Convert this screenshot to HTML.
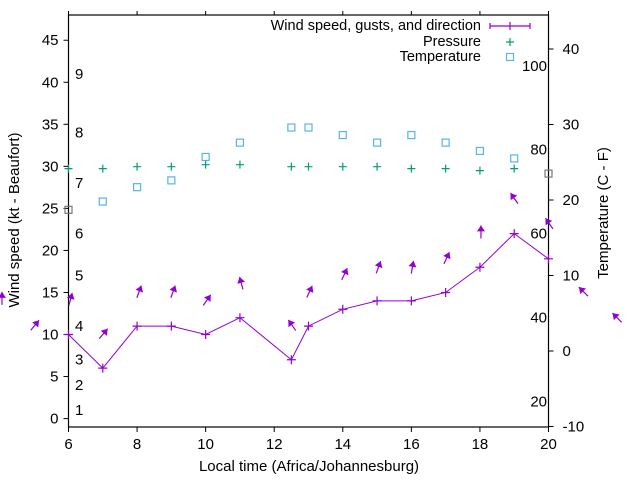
<!DOCTYPE html>
<html><head><meta charset="utf-8"><style>
html,body{margin:0;padding:0;background:#fff}
svg{display:block;font-family:"Liberation Sans",sans-serif}
</style></head><body>
<svg id="chart" width="640" height="480" xmlns="http://www.w3.org/2000/svg">
<g id="g"></g>
</svg>
<script>
const hours=[6,7,8,9,10,11,12.5,13,14,15,16,17,18,19,20];
const windSpeed=[10,6,11,11,10,12,7,11,13,14,14,15,18,22,19];
const pressure=[29.73,29.73,29.96,29.96,30.2,30.2,29.96,29.96,29.96,29.96,29.73,29.73,29.49,29.73];
const tempC=[18.7,19.8,21.7,22.6,25.7,27.6,29.6,29.6,28.6,27.6,28.6,27.6,26.5,25.5,23.5];
const arrowHours=[4.06,5.02,6.06,7.02,8.06,9.05,10.04,11.04,12.52,13.03,14.05,15.04,16.03,17.03,18.03,19.0,20.02,21.02,22.0];
const arrowLevel=[14.3,11.1,14.2,10.1,15.1,15.1,14.1,16.1,11.1,15.1,17.2,18.0,18.0,19.1,22.2,26.2,23.2,15.1,12.0];
const arrowDir=[0,40,15,40,20,20,35,-15,-35,25,25,20,10,25,0,-35,-35,-45,-45];
const xTicks=[6,8,10,12,14,16,18,20];
const yTicks=[0,5,10,15,20,25,30,35,40,45];
const y2Ticks=[-10,0,10,20,30,40];
const beaufortLabels=["1","2","3","4","5","6","7","8","9"];
const beaufortKt=[1,4,7,11,17,22,28,34,41];
const fLabels=["20","40","60","80","100"];
const fValues=[20,40,60,80,100];

const L=68.5,R=548.5,T=15,B=427;
const X=h=>L+(h-6)/(20-6)*(R-L);
const Y=v=>B-(v+1)/49*(B-T);
const Y2=c=>351-c*7.55;
const F2C=f=>(f-32)*5/9;
const NS="http://www.w3.org/2000/svg";
const g=document.getElementById('g');
function mk(tag,attrs,parent){const e=document.createElementNS(NS,tag);for(const k in attrs)e.setAttribute(k,attrs[k]);(parent||g).appendChild(e);return e;}
function txt(s,x,y,anchor,size,extra){const e=mk('text',Object.assign({x:x,y:y,'text-anchor':anchor||'middle','font-size':size||14,fill:'#000'},extra||{}));e.textContent=s;return e;}

// border
let e=mk('rect',{x:L,y:T,width:R-L,height:B-T,fill:'none',stroke:'#000','stroke-width':1.2});



xTicks.forEach(h=>{
  let t=mk('line',{x1:X(h),x2:X(h),y1:B,y2:B+5,stroke:'#000'});
  
  
  mk('line',{x1:X(h),x2:X(h),y1:T,y2:T-4,stroke:'#000'});
  let l=txt(String(h),X(h),449,'middle',15);
  
  
});
yTicks.forEach(v=>{
  let t=mk('line',{x1:L-5,x2:L,y1:Y(v),y2:Y(v),stroke:'#000'});
  
  
  let l=txt(String(v),L-10,Y(v)+5,'end',15);
  
  
});
y2Ticks.forEach(v=>{
  let t=mk('line',{x1:R,x2:R+5,y1:Y2(v),y2:Y2(v),stroke:'#000'});
  
  
  let l=txt(String(v),R+14,Y2(v)+5,'start',15);
  
  
});
beaufortLabels.forEach((s,i)=>{
  let l=txt(s,75,Y(beaufortKt[i])+5,'start',15);
  
  
});
fValues.forEach((f,i)=>{
  let l=txt(fLabels[i],547,Y2(F2C(f))+5,'end',15);
  
  
});

// axis titles
e=txt('Local time (Africa/Johannesburg)',309,471,'middle',15);


e=txt('Wind speed (kt - Beaufort)',0,0,'middle',15,{transform:'translate(19,220) rotate(-90)'});


e=txt('Temperature (C - F)',0,0,'middle',15,{transform:'translate(608,213) rotate(-90)'});



function plus(x,y,c,s){const p=mk('path',{d:`M${x-s},${y}H${x+s}M${x},${y-s}V${y+s}`,stroke:c,'stroke-width':1.2,fill:'none'});return p;}
function square(x,y,c){return mk('rect',{x:x-3.5,y:y-3.5,width:7,height:7,fill:'none',stroke:c,'stroke-width':1.2});}

// temperature
tempC.forEach((c,i)=>{
  const h=hours[i];
  const col=(h<=6||h>=20)?'#777':'#56b4e9';
  let s=square(X(h),Y2(c),col);
  
  
});
// pressure
pressure.forEach((p,i)=>{
  let s=plus(X(hours[i]),Y(p),'#009e73',4);
  
  
});
// wind line
const pts=windSpeed.map((w,i)=>X(hours[i])+','+Y(w)).join(' ');
e=mk('polyline',{points:pts,fill:'none',stroke:'#9400d3','stroke-width':1});


windSpeed.forEach((w,i)=>{
  let s=plus(X(hours[i]),Y(w),'#9400d3',4.5);
  
  
});
// arrows
arrowHours.forEach((h,i)=>{
  const cx=X(h),cy=Y(arrowLevel[i]),a=arrowDir[i]*Math.PI/180,len=13;
  const dx=Math.sin(a),dy=-Math.cos(a);
  const x1=cx-dx*len/2,y1=cy-dy*len/2,x2=cx+dx*len/2,y2=cy+dy*len/2;
  const grp=mk('g',{});
  
  
  mk('line',{x1:x1,y1:y1,x2:x2,y2:y2,stroke:'#9400d3','stroke-width':1.2},grp);
  const px=-dy,py=dx,hl=6,hw=4;
  const bx=x2-dx*hl,by=y2-dy*hl;
  mk('polygon',{points:`${x2},${y2} ${bx+px*hw},${by+py*hw} ${bx-px*hw},${by-py*hw}`,fill:'#9400d3'},grp);
});

// legend
const lg=mk('g',{});


e=txt('Wind speed, gusts, and direction',481,30,'end',14.5);


e=mk('path',{d:'M490,26H530M490,23V29M530,23V29M510,22V30',stroke:'#9400d3','stroke-width':1.2,fill:'none'});


e=txt('Pressure',481,46,'end',14.5);


e=plus(510,42,'#009e73',4);


e=txt('Temperature',481,61,'end',14.5);


e=square(510,57,'#56b4e9');


</script>
</body></html>
